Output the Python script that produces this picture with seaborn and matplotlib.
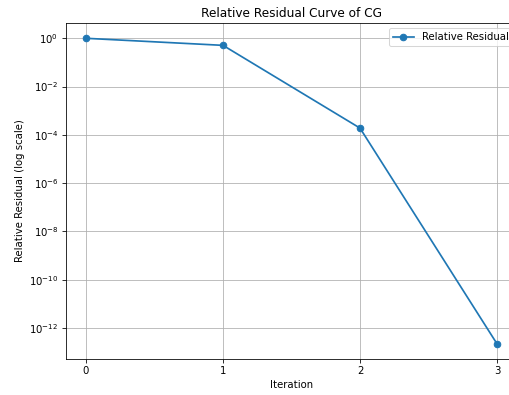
import numpy as np
import pandas as pd
import seaborn as sns
import matplotlib
matplotlib.use("Agg")
import matplotlib.pyplot as plt

# iteration and residual values
iterations = [0, 1, 2, 3]
residuals = [1.0, 0.51, 1.9e-4, 2.2e-13]

df = pd.DataFrame({"Iteration": iterations, "Relative Residual": residuals})

DPI = 72.5
fig = plt.figure(figsize=(509 / DPI, 395 / DPI), dpi=DPI)
ax = fig.add_axes([0.1287, 0.0911, 0.888, 0.8506])
sns.lineplot(data=df, x="Iteration", y="Relative Residual", marker="o",
             markeredgewidth=1, markeredgecolor="#1f77b4", markersize=6.5,
             linewidth=1.7, color="#1f77b4",
             label="Relative Residual", ax=ax)
ax.set_yscale("log")
ax.set_xticks(iterations)
ax.set_title("Relative Residual Curve of CG")
ax.set_xlabel("Iteration")
ax.set_ylabel("Relative Residual (log scale)")
ax.grid(True, color="#b0b0b0", linewidth=0.8)
ax.legend(loc="upper right")

fig.savefig("out.png", dpi=DPI)
